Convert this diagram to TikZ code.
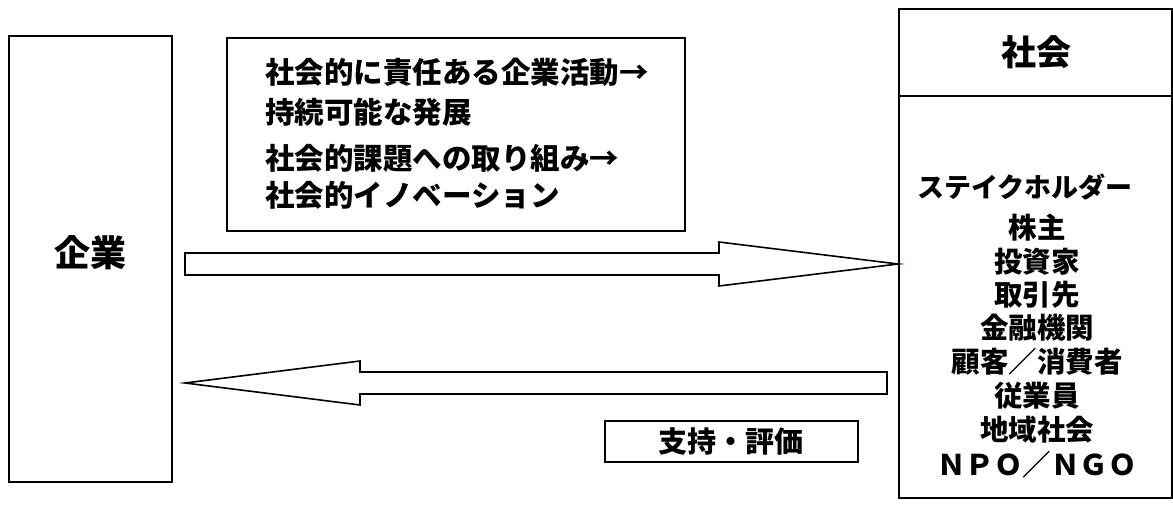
\documentclass[tikz,border=0pt]{standalone}
\usepackage{fontspec}
\newfontfamily\jp{Noto Sans CJK JP}
\tikzset{
  frame/.style={draw=black, line width=1.6pt, fill=white},
  blockarrow/.style={draw=black, line width=1.6pt, fill=white, line join=miter},
  lbl/.style={inner sep=0pt, font=\jp\bfseries},
}
\begin{document}
\begin{tikzpicture}[x=1pt,y=-1pt]
\useasboundingbox (0,0) rectangle (1173,526);
\fill[white] (0,0) rectangle (1173,526);
% left box
\draw[frame] (9,36) rectangle (172,482);
\node[lbl, font=\jp\bfseries\fontsize{36}{36}\selectfont] (kigyo) at (90,253) {企業};
% top text box
\draw[frame] (227,38) rectangle (685,231);
\node[lbl, anchor=west, font=\jp\bfseries\fontsize{29.5}{30}\selectfont] (t1) at (265,72) {社会的に責任ある企業活動→};
\node[lbl, anchor=west, font=\jp\bfseries\fontsize{29.5}{30}\selectfont] (t2) at (265,112) {持続可能な発展};
\node[lbl, anchor=west, font=\jp\bfseries\fontsize{29.5}{30}\selectfont] (t3) at (265,158) {社会的課題への取り組み→};
\node[lbl, anchor=west, font=\jp\bfseries\fontsize{29.5}{30}\selectfont] (t4) at (265,195) {社会的イノベーション};
% right box
\draw[frame] (899,9) rectangle (1172,498);
\draw[line width=1.6pt] (899,96) -- (1172,96);
\node[lbl, font=\jp\bfseries\fontsize{35}{35}\selectfont] (shakai) at (1036,52) {社会};
\node[lbl, font=\jp\bfseries\fontsize{27}{27}\selectfont] (sh) at (1025,187) {ステイクホルダー};
\foreach \t/\y/\n in {株主/228/a, 投資家/262/b, 取引先/295/c, 金融機関/328/d, 顧客／消費者/362/e, 従業員/396/f, 地域社会/430/g, ＮＰＯ／ＮＧＯ/465/h}
  \node[lbl, font=\jp\bfseries\fontsize{28.5}{28.5}\selectfont] (item\n) at (1037,\y) {\t};
% support box
\draw[frame] (605,421) rectangle (858,462);
\node[lbl, font=\jp\bfseries\fontsize{29}{29}\selectfont] (shiji) at (731,442) {支持・評価};
% top block arrow
\coordinate (ta) at (185,253);
\coordinate (tip1) at (898,264);
\draw[blockarrow] (ta) -- (719,253) -- (719,242) -- (tip1) -- (719,286) -- (719,275) -- (185,275) -- cycle;
% bottom block arrow
\coordinate (tip2) at (185,383);
\draw[blockarrow] (887,372) -- (360,372) -- (360,361) -- (tip2) -- (360,405) -- (360,394) -- (887,394) -- cycle;
\end{tikzpicture}
\end{document}
